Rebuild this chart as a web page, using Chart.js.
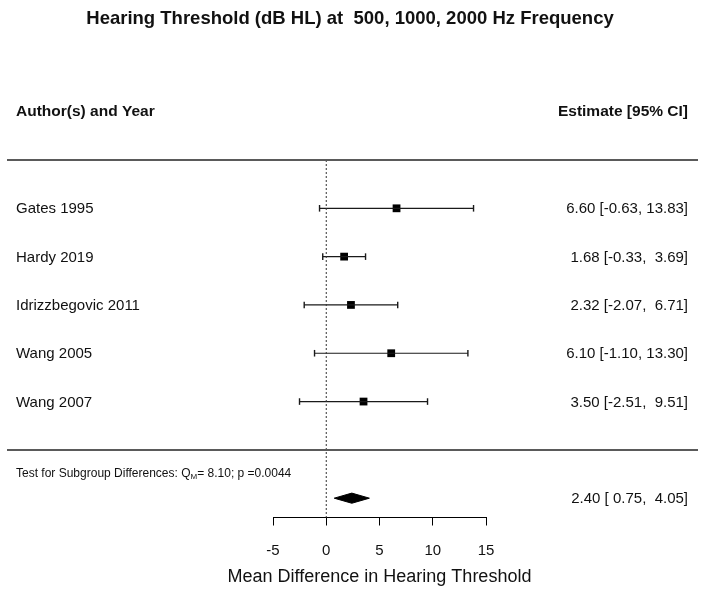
<!DOCTYPE html>
<html>
<head>
<meta charset="utf-8">
<script src="https://cdn.jsdelivr.net/npm/chart.js@4/dist/chart.umd.min.js"></script>
<style>
  html, body { margin: 0; padding: 0; background: #fff; }
  #wrap { width: 708px; height: 589px; position: relative; }
</style>
</head>
<body>
<div id="wrap"><canvas id="c" width="708" height="589"></canvas></div>
<script>
// ---- data ----
const studies = ['Gates 1995', 'Hardy 2019', 'Idrizzbegovic 2011', 'Wang 2005', 'Wang 2007'];
const estimates = [6.60, 1.68, 2.32, 6.10, 3.50];
const lowerCI = [-0.63, -0.33, -2.07, -1.10, -2.51];
const upperCI = [13.83, 3.69, 6.71, 13.30, 9.51];
const rowPos = [5, 4, 3, 2, 1];
const pooledEst = 2.40;
const pooledLow = 0.75;
const pooledHigh = 4.05;
const pooledRow = -1;
const xTicks = [-5, 0, 5, 10, 15];
const ruleRows = [6, 0];
const titleText = 'Hearing Threshold (dB HL) at  500, 1000, 2000 Hz Frequency';
const axisTitle = 'Mean Difference in Hearing Threshold';
const testQ = '8.10';
const testP = '0.0044';

const FONT = "'Liberation Sans', Arial, Helvetica, sans-serif";
Chart.defaults.font.family = FONT;
Chart.defaults.color = '#111';

function pad5(v) { return v.toFixed(2).padStart(5, ' '); }
function ciLabel(e, l, u) { return e.toFixed(2) + ' [' + pad5(l) + ', ' + pad5(u) + ']'; }

// datasets
const datasets = [];
// reference (null) line
datasets.push({
  type: 'line', data: [{x: 0, y: ruleRows[0]}, {x: 0, y: -1.4}],
  borderColor: '#333', borderWidth: 1, borderDash: [2, 2], pointRadius: 0, clip: false
});
// CI lines with end caps
studies.forEach((s, i) => {
  datasets.push({
    type: 'line',
    data: [{x: lowerCI[i], y: rowPos[i]}, {x: upperCI[i], y: rowPos[i]}],
    borderColor: '#1a1a1a', borderWidth: 1.2,
    pointStyle: 'line', rotation: 90, pointRadius: 3.3,
    pointBorderColor: '#1a1a1a', pointBorderWidth: 1.4, clip: false
  });
});
// point estimates
datasets.push({
  type: 'scatter',
  data: estimates.map((e, i) => ({x: e, y: rowPos[i]})),
  pointStyle: 'rect', pointRadius: 5.5, backgroundColor: '#000', borderColor: '#000', borderWidth: 0, clip: false
});
// pooled diamond
const dh = 0.105;
datasets.push({
  type: 'line',
  data: [
    {x: pooledLow, y: pooledRow}, {x: pooledEst, y: pooledRow + dh},
    {x: pooledHigh, y: pooledRow}, {x: pooledEst, y: pooledRow - dh},
    {x: pooledLow, y: pooledRow}
  ],
  borderColor: '#000', borderWidth: 1, backgroundColor: '#000', fill: 'shape',
  pointRadius: 0, tension: 0, clip: false
});

const textPlugin = {
  id: 'forestText',
  afterDraw(chart) {
    const ctx = chart.ctx;
    const ys = chart.scales.y;
    const xs = chart.scales.x;
    ctx.save();
    // rules
    ctx.strokeStyle = '#5a5a5a';
    ctx.lineWidth = 2;
    ruleRows.forEach(r => {
      const py = Math.round(ys.getPixelForValue(r));
      ctx.beginPath();
      ctx.moveTo(7, py);
      ctx.lineTo(698, py);
      ctx.stroke();
    });
    ctx.fillStyle = '#111';
    ctx.textBaseline = 'middle';
    // title
    ctx.font = 'bold 18.5px ' + FONT;
    ctx.textAlign = 'center';
    ctx.fillText(titleText, 350, 19);
    // axis title
    ctx.font = '18px ' + FONT;
    ctx.fillText(axisTitle, (xs.left + xs.right) / 2, 577);
    // headers
    ctx.font = 'bold 15.5px ' + FONT;
    ctx.textAlign = 'left';
    ctx.fillText('Author(s) and Year', 16, 112);
    ctx.textAlign = 'right';
    ctx.fillText('Estimate [95% CI]', 688, 112);
    // study rows
    ctx.font = '15px ' + FONT;
    studies.forEach((s, i) => {
      const py = ys.getPixelForValue(rowPos[i]) + 1;
      ctx.textAlign = 'left';
      ctx.fillText(s, 16, py);
      ctx.textAlign = 'right';
      ctx.fillText(ciLabel(estimates[i], lowerCI[i], upperCI[i]), 688, py);
    });
    // pooled label
    const pp = ys.getPixelForValue(pooledRow) + 1;
    ctx.textAlign = 'right';
    ctx.fillText(ciLabel(pooledEst, pooledLow, pooledHigh), 688, pp);
    // test for subgroup differences
    ctx.textAlign = 'left';
    ctx.font = '12px ' + FONT;
    let x = 16;
    const ty = 474;
    const p1 = 'Test for Subgroup Differences: Q';
    ctx.fillText(p1, x, ty);
    x += ctx.measureText(p1).width;
    ctx.font = '8px ' + FONT;
    ctx.fillText('M', x, ty + 3);
    x += ctx.measureText('M').width;
    ctx.font = '12px ' + FONT;
    ctx.fillText('= ' + testQ + '; p =' + testP, x, ty);
    ctx.restore();
  }
};

new Chart(document.getElementById('c'), {
  data: { datasets },
  plugins: [textPlugin],
  options: {
    responsive: false,
    animation: false,
    events: [],
    layout: { padding: { left: 273, right: 222, top: 160, bottom: 13.5 } },
    plugins: {
      legend: { display: false },
      tooltip: { enabled: false },
      title: { display: false }
    },
    scales: {
      x: {
        type: 'linear', position: 'bottom', min: -5, max: 15,
        afterBuildTicks: (scale) => { scale.ticks = xTicks.map(v => ({value: v})); },
        ticks: { color: '#111', font: { size: 15 }, padding: 16 },
        grid: { display: true, drawOnChartArea: false, drawTicks: true, tickLength: 8, color: '#000', lineWidth: 1 },
        border: { display: true, color: '#000', width: 1 },
        title: { display: false }
      },
      y: { type: 'linear', display: false, min: -1.4, max: 6 }
    }
  }
});
</script>
</body>
</html>
